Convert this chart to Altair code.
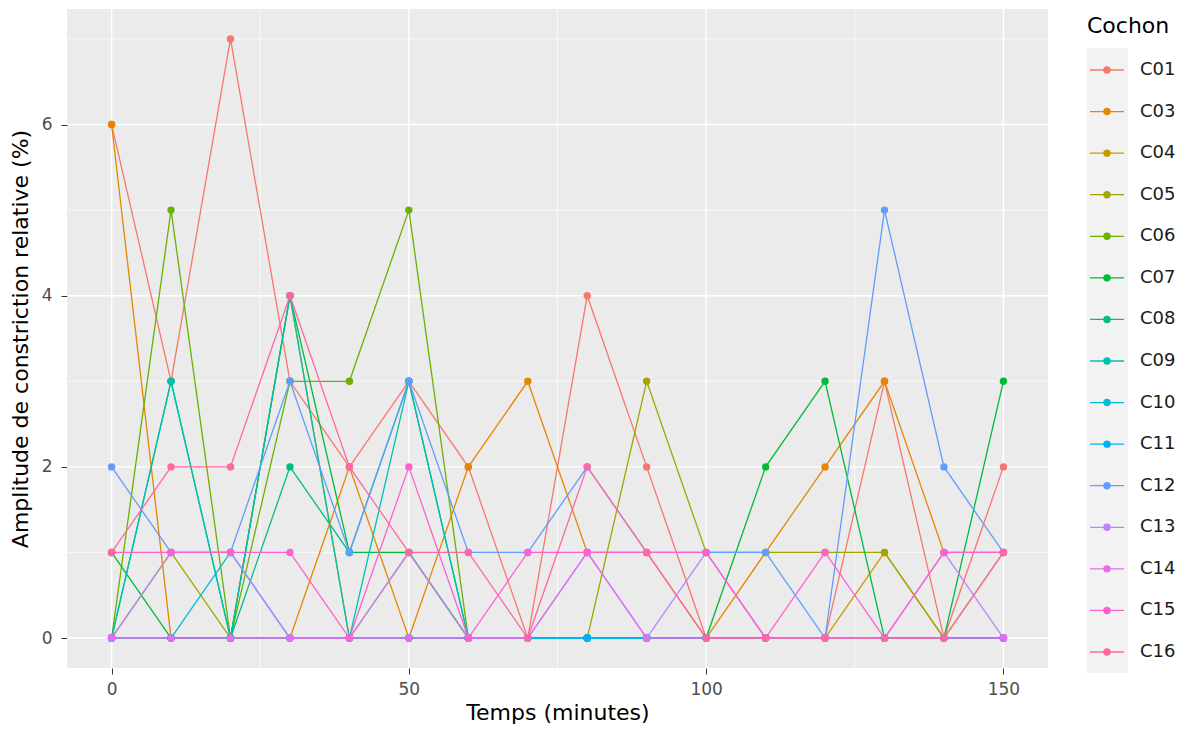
import altair as alt
import pandas as pd

times = [0, 10, 20, 30, 40, 50, 60, 70, 80, 90, 100, 110, 120, 130, 140, 150]
series = ["C01", "C03", "C04", "C05", "C06", "C07", "C08", "C09",
          "C10", "C11", "C12", "C13", "C14", "C15", "C16"]
colors = ["#F8766D", "#E58700", "#C99800", "#A3A500", "#6BB100", "#00BA38",
          "#00BF7D", "#00C0AF", "#00BCD8", "#00B0F6", "#619CFF", "#B983FF",
          "#E76BF3", "#FD61D1", "#FF67A4"]

C01 = [6, 3, 7, 3, 2, 3, 2, 0, 4, 2, 0, 0, 0, 3, 0, 2]
C03 = [6, 0, 0, 0, 2, 0, 2, 3, 1, 1, 0, 1, 2, 3, 1, 1]
C04 = [0, 0, 0, 4, 0, 1, 0, 0, 0, 0, 0, 0, 0, 1, 0, 0]
C05 = [0, 1, 0, 0, 0, 0, 0, 0, 0, 3, 1, 1, 1, 1, 0, 1]
C06 = [0, 5, 0, 3, 3, 5, 0, 0, 0, 0, 0, 0, 0, 0, 0, 0]
C07 = [1, 0, 0, 4, 1, 1, 0, 0, 0, 0, 0, 2, 3, 0, 0, 3]
C08 = [0, 3, 0, 2, 1, 3, 0, 0, 0, 0, 0, 0, 0, 0, 0, 0]
C09 = [0, 3, 0, 4, 0, 3, 0, 0, 0, 0, 0, 0, 0, 0, 0, 0]
C10 = [0, 0, 1, 0, 0, 0, 0, 0, 0, 0, 0, 0, 0, 0, 0, 0]
C11 = [0, 0, 0, 0, 0, 0, 0, 0, 0, 0, 0, 0, 0, 0, 0, 0]
C12 = [2, 1, 1, 3, 1, 3, 1, 1, 2, 1, 1, 1, 0, 5, 2, 1]
C13 = [0, 1, 1, 0, 0, 1, 0, 0, 1, 0, 1, 0, 0, 0, 1, 0]
C14 = [0, 0, 0, 0, 0, 0, 0, 0, 1, 0, 0, 0, 0, 0, 0, 0]
C15 = [1, 1, 1, 1, 0, 2, 0, 1, 1, 1, 1, 0, 1, 0, 1, 1]
C16 = [1, 2, 2, 4, 2, 1, 1, 0, 2, 1, 0, 0, 0, 0, 0, 1]

values = [C01, C03, C04, C05, C06, C07, C08, C09, C10, C11, C12, C13, C14, C15, C16]

x_major = [0, 50, 100, 150]
x_minor = [25, 75, 125]
y_major = [0, 2, 4, 6]
y_minor = [1, 3, 5, 7]

FONT = "DejaVu Sans"
W, H = 981, 659

rows = []
for k, (s, vals) in enumerate(zip(series, values)):
    for t, v in zip(times, vals):
        rows.append({"Temps": t, "Amp": v, "Cochon": s, "order": k})
df = pd.DataFrame(rows)

xs = alt.Scale(domain=[-7.5, 157.5], nice=False, zero=False)
ys = alt.Scale(domain=[-0.35, 7.35], nice=False, zero=False)
cs = alt.Scale(domain=series, range=colors)

gx_major = alt.Chart(pd.DataFrame({"g": x_major})).mark_rule(color="white", strokeWidth=1.4).encode(
    x=alt.X("g:Q", scale=xs, axis=None))
gx_minor = alt.Chart(pd.DataFrame({"g": x_minor})).mark_rule(color="white", strokeWidth=0.7).encode(
    x=alt.X("g:Q", scale=xs, axis=None))
gy_major = alt.Chart(pd.DataFrame({"g": y_major})).mark_rule(color="white", strokeWidth=1.4).encode(
    y=alt.Y("g:Q", scale=ys, axis=None))
gy_minor = alt.Chart(pd.DataFrame({"g": y_minor})).mark_rule(color="white", strokeWidth=0.7).encode(
    y=alt.Y("g:Q", scale=ys, axis=None))

base = alt.Chart(df)
lines = base.mark_line(strokeWidth=1.3).encode(
    x=alt.X("Temps:Q", scale=xs, title="Temps (minutes)",
            axis=alt.Axis(values=x_major, grid=False, domain=False, tickColor="#333333",
                          tickSize=6, labelColor="#4D4D4D", labelFontSize=17, labelFont=FONT,
                          labelPadding=7, titleFont=FONT, titleFontSize=22, titleFontWeight="normal",
                          titleColor="#000000", titlePadding=5)),
    y=alt.Y("Amp:Q", scale=ys, title="Amplitude de constriction relative (%)",
            axis=alt.Axis(values=y_major, grid=False, domain=False, tickColor="#333333",
                          tickSize=6, labelColor="#4D4D4D", labelFontSize=17, labelFont=FONT,
                          labelPadding=9, titleFont=FONT, titleFontSize=22, titleFontWeight="normal",
                          titleColor="#000000", titlePadding=9)),
    color=alt.Color("Cochon:N", scale=cs, legend=None),
    detail="Cochon:N",
    order=alt.Order("Temps:Q"),
)
points = base.mark_circle(size=55, opacity=1).encode(
    x=alt.X("Temps:Q", scale=xs, axis=None),
    y=alt.Y("Amp:Q", scale=ys, axis=None),
    color=alt.Color("Cochon:N", scale=cs, legend=None),
    order=alt.Order("order:Q"),
)

# manual legend (ggplot-style keys: line + point on grey key background)
leg_df = pd.DataFrame({"Cochon": series})
ly = alt.Y("Cochon:N", scale=alt.Scale(type="point", domain=series, range=[61, 643], padding=0), axis=None)
leg_bg = alt.Chart(pd.DataFrame({"a": [0]})).mark_rect(color="#F2F2F2").encode(
    x=alt.value(1020), x2=alt.value(1061), y=alt.value(39), y2=alt.value(664))
leg_title = alt.Chart(pd.DataFrame({"t": ["Cochon"]})).mark_text(
    align="left", baseline="middle", fontSize=22, font=FONT, color="#000000").encode(
    x=alt.value(1020), y=alt.value(17), text="t:N")
leg_rule = alt.Chart(leg_df).mark_rule(strokeWidth=1.3).encode(
    y=ly, x=alt.value(1023), x2=alt.value(1057),
    color=alt.Color("Cochon:N", scale=cs, legend=None))
leg_pt = alt.Chart(leg_df).mark_circle(size=55, opacity=1).encode(
    y=ly, x=alt.value(1040), color=alt.Color("Cochon:N", scale=cs, legend=None))
leg_txt = alt.Chart(leg_df).mark_text(align="left", baseline="middle", fontSize=18,
                                      font=FONT, color="#1A1A1A").encode(
    y=ly, x=alt.value(1073), text="Cochon:N")

chart = alt.layer(
    gx_minor, gy_minor, gx_major, gy_major, lines, points,
    leg_bg, leg_title, leg_rule, leg_pt, leg_txt
).resolve_scale(y="independent", x="independent").properties(
    width=W, height=H,
    autosize=alt.AutoSizeParams(type="none"),
    padding={"left": 67, "top": 9, "right": 144, "bottom": 69},
    background="white",
).configure_view(fill="#EBEBEB", stroke=None)

chart.save("out.html", embed_options={"renderer": "svg", "actions": False})
